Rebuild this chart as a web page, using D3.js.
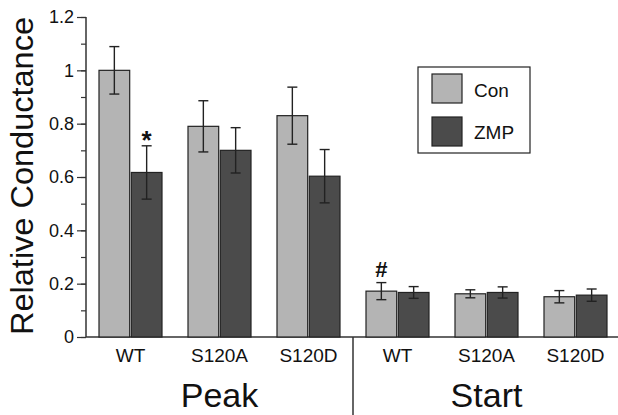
<!DOCTYPE html>
<html>
<head>
<meta charset="utf-8">
<script src="https://cdn.jsdelivr.net/npm/d3@7"></script>
<style>
  body { margin: 0; background: #fff; }
  svg { display: block; font-family: "Liberation Sans", Arial, sans-serif; }
</style>
</head>
<body>
<svg id="chart" width="618" height="415"></svg>
<script>
const phases = ["Peak", "Start"];
const mutants = ["WT", "S120A", "S120D"];
const series = ["Con", "ZMP"];
const conValues = [1.0, 0.79, 0.83, 0.172, 0.162, 0.151];
const conErrors = [0.089, 0.096, 0.107, 0.032, 0.015, 0.023];
const zmpValues = [0.617, 0.70, 0.603, 0.167, 0.167, 0.157];
const zmpErrors = [0.1, 0.085, 0.1, 0.022, 0.021, 0.023];
const yTicks = [0, 0.2, 0.4, 0.6, 0.8, 1, 1.2];
const marks = [{ group: 0, s: "ZMP", text: "*" }, { group: 3, s: "Con", text: "#" }];

const colors = { Con: "#b4b4b4", ZMP: "#4b4b4b" };

const svg = d3.select("#chart");
const mLeft = 86, mRight = 620, mTop = 17, mBottom = 337;

const groups = [];
phases.forEach((p, pi) => mutants.forEach((m, mi) => groups.push(pi * 3 + mi)));

const x = d3.scaleBand().domain(groups).range([mLeft, mRight]).paddingInner(0).paddingOuter(0);
const xs = d3.scaleBand().domain(series).range([0, 63]).paddingInner(0.05);
const y = d3.scaleLinear().domain([0, 1.2]).range([mBottom, mTop]);

const data = [];
groups.forEach((g) => {
  data.push({ g, s: "Con", v: conValues[g], e: conErrors[g] });
  data.push({ g, s: "ZMP", v: zmpValues[g], e: zmpErrors[g] });
});
const barX = (d) => x(d.g) + (x.bandwidth() - 63) / 2 + xs(d.s);

// y axis, minor ticks every 0.1
const yAxis = d3.axisLeft(y).tickValues(d3.range(0, 1.21, 0.1)).tickSize(5).tickFormat("");
const ya = svg.append("g").attr("transform", `translate(${mLeft},0)`).call(yAxis);
ya.select(".domain").attr("d", `M0,${y(1.2)}V${mBottom}`);
ya.selectAll(".tick line").attr("stroke", "#333").attr("stroke-width", 1.2);
ya.select(".domain").attr("stroke", "#333").attr("stroke-width", 1.5);
const yMajor = d3.axisLeft(y).tickValues(yTicks).tickSize(9).tickPadding(3)
  .tickFormat((d) => d3.format("~g")(d));
const ym = svg.append("g").attr("transform", `translate(${mLeft},0)`).call(yMajor);
ym.select(".domain").remove();
ym.selectAll(".tick line").attr("stroke", "#333").attr("stroke-width", 1.2);
ym.selectAll(".tick text").attr("font-size", 18).attr("fill", "#111").attr("font-family", "Liberation Sans, Arial, sans-serif");

// x axis line and the Peak / Start divider
svg.append("line").attr("x1", mLeft).attr("x2", 618).attr("y1", mBottom).attr("y2", mBottom)
  .attr("stroke", "#333").attr("stroke-width", 1.5);
svg.append("line").attr("x1", x(3)).attr("x2", x(3)).attr("y1", mBottom).attr("y2", 415)
  .attr("stroke", "#333").attr("stroke-width", 1.5);

// bars
svg.selectAll("rect.bar").data(data).enter().append("rect")
  .attr("class", "bar")
  .attr("x", barX)
  .attr("y", (d) => y(d.v))
  .attr("width", xs.bandwidth())
  .attr("height", (d) => mBottom - y(d.v))
  .attr("fill", (d) => colors[d.s])
  .attr("stroke", "#222")
  .attr("stroke-width", 1.2);

// error bars
const eb = svg.selectAll("g.err").data(data).enter().append("g").attr("class", "err")
  .attr("stroke", "#222").attr("stroke-width", 1.4);
eb.append("line")
  .attr("x1", (d) => barX(d) + xs.bandwidth() / 2).attr("x2", (d) => barX(d) + xs.bandwidth() / 2)
  .attr("y1", (d) => y(d.v + d.e)).attr("y2", (d) => y(d.v - d.e));
[1, -1].forEach((sgn) => {
  eb.append("line")
    .attr("x1", (d) => barX(d) + xs.bandwidth() / 2 - 5).attr("x2", (d) => barX(d) + xs.bandwidth() / 2 + 5)
    .attr("y1", (d) => y(d.v + sgn * d.e)).attr("y2", (d) => y(d.v + sgn * d.e));
});

// significance marks
marks.forEach((m) => {
  const d = data.find((k) => k.g === m.group && k.s === m.s);
  svg.append("text").attr("x", barX(d) + xs.bandwidth() / 2).attr("y", y(d.v + d.e) - 6)
    .attr("text-anchor", "middle").attr("font-size", m.text === "*" ? 26 : 22).attr("font-weight", "bold")
    .attr("dy", m.text === "*" ? "0.35em" : 0)
    .attr("fill", "#111").text(m.text);
});

// category labels
svg.selectAll("text.cat").data(groups).enter().append("text")
  .attr("class", "cat")
  .attr("x", (g) => x(g) + x.bandwidth() / 2)
  .attr("y", 362)
  .attr("text-anchor", "middle").attr("font-size", 19).attr("fill", "#111")
  .text((g) => mutants[g % 3]);

svg.selectAll("text.phase").data(phases).enter().append("text")
  .attr("class", "phase")
  .attr("x", (p, i) => x(i * 3 + 1) + x.bandwidth() / 2)
  .attr("y", 407)
  .attr("text-anchor", "middle").attr("font-size", 34).attr("fill", "#111")
  .text((p) => p);

// y label
svg.append("text").attr("transform", "translate(33,176) rotate(-90)")
  .attr("text-anchor", "middle").attr("font-size", 31).attr("fill", "#111")
  .attr("textLength", 318).attr("lengthAdjust", "spacingAndGlyphs")
  .text("Relative Conductance");

// legend
const lg = svg.append("g").attr("transform", "translate(418,67)");
lg.append("rect").attr("width", 112).attr("height", 86).attr("fill", "#fff")
  .attr("stroke", "#222").attr("stroke-width", 1.2);
series.forEach((s, i) => {
  lg.append("rect").attr("x", 14).attr("y", 7 + i * 43).attr("width", 30).attr("height", 29)
    .attr("fill", colors[s]).attr("stroke", "#222").attr("stroke-width", 1.2);
  lg.append("text").attr("x", 56).attr("y", 30 + i * 42).attr("font-size", 19).attr("fill", "#111").text(s);
});
</script>
</body>
</html>
